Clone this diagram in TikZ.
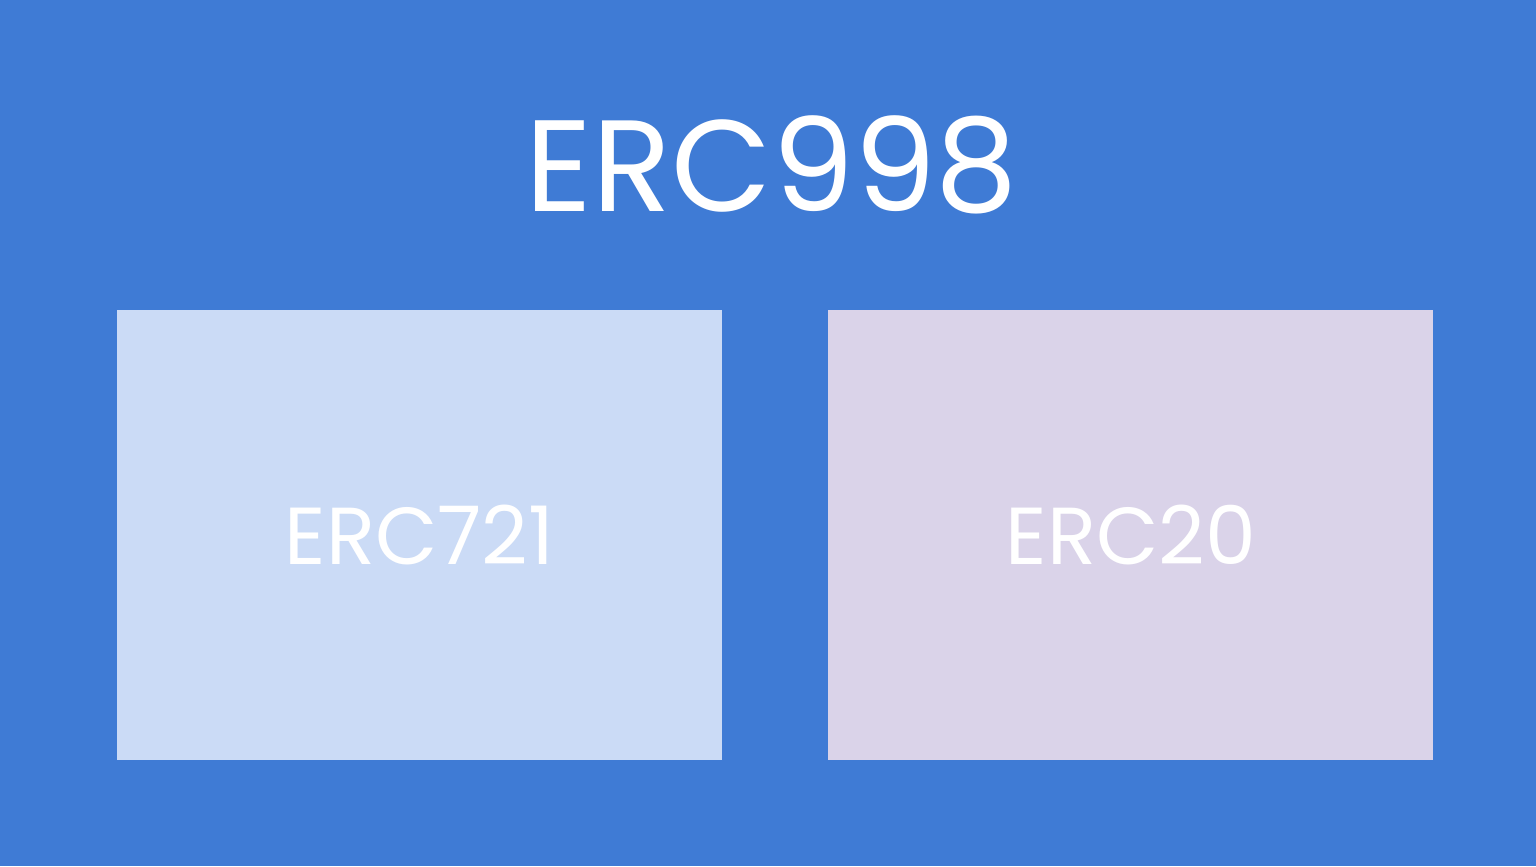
\documentclass[tikz,border=0pt]{standalone}
\usepackage{fontspec}
\setmainfont{Poppins}
\usepackage{xcolor}
\usepackage{tikz}
\usetikzlibrary{positioning}
\definecolor{BackBlue}{HTML}{3F7BD5}
\definecolor{BoxBlue}{HTML}{CBDBF6}
\definecolor{BoxLilac}{HTML}{DAD3E9}

\begin{document}
\begin{tikzpicture}
      \fill[BackBlue] (0,0) rectangle (15.36,8.66);
      \node[anchor=base, text=white, inner sep=0pt,
            font=\fontsize{37pt}{42pt}\selectfont] (title) at (7.72,6.54) {ERC998};
      \node[fill=BoxBlue, minimum width=6.05cm, minimum height=4.5cm,
            inner sep=0pt, text=white, font=\fontsize{23pt}{27pt}\selectfont]
            (erc721) at (4.195,3.31) {ERC721};
      \node[fill=BoxLilac, minimum width=6.05cm, minimum height=4.5cm,
            inner sep=0pt, text=white, font=\fontsize{23pt}{27pt}\selectfont,
            right=1.05cm of erc721] (erc20) {ERC20};
    \end{tikzpicture}
\end{document}
